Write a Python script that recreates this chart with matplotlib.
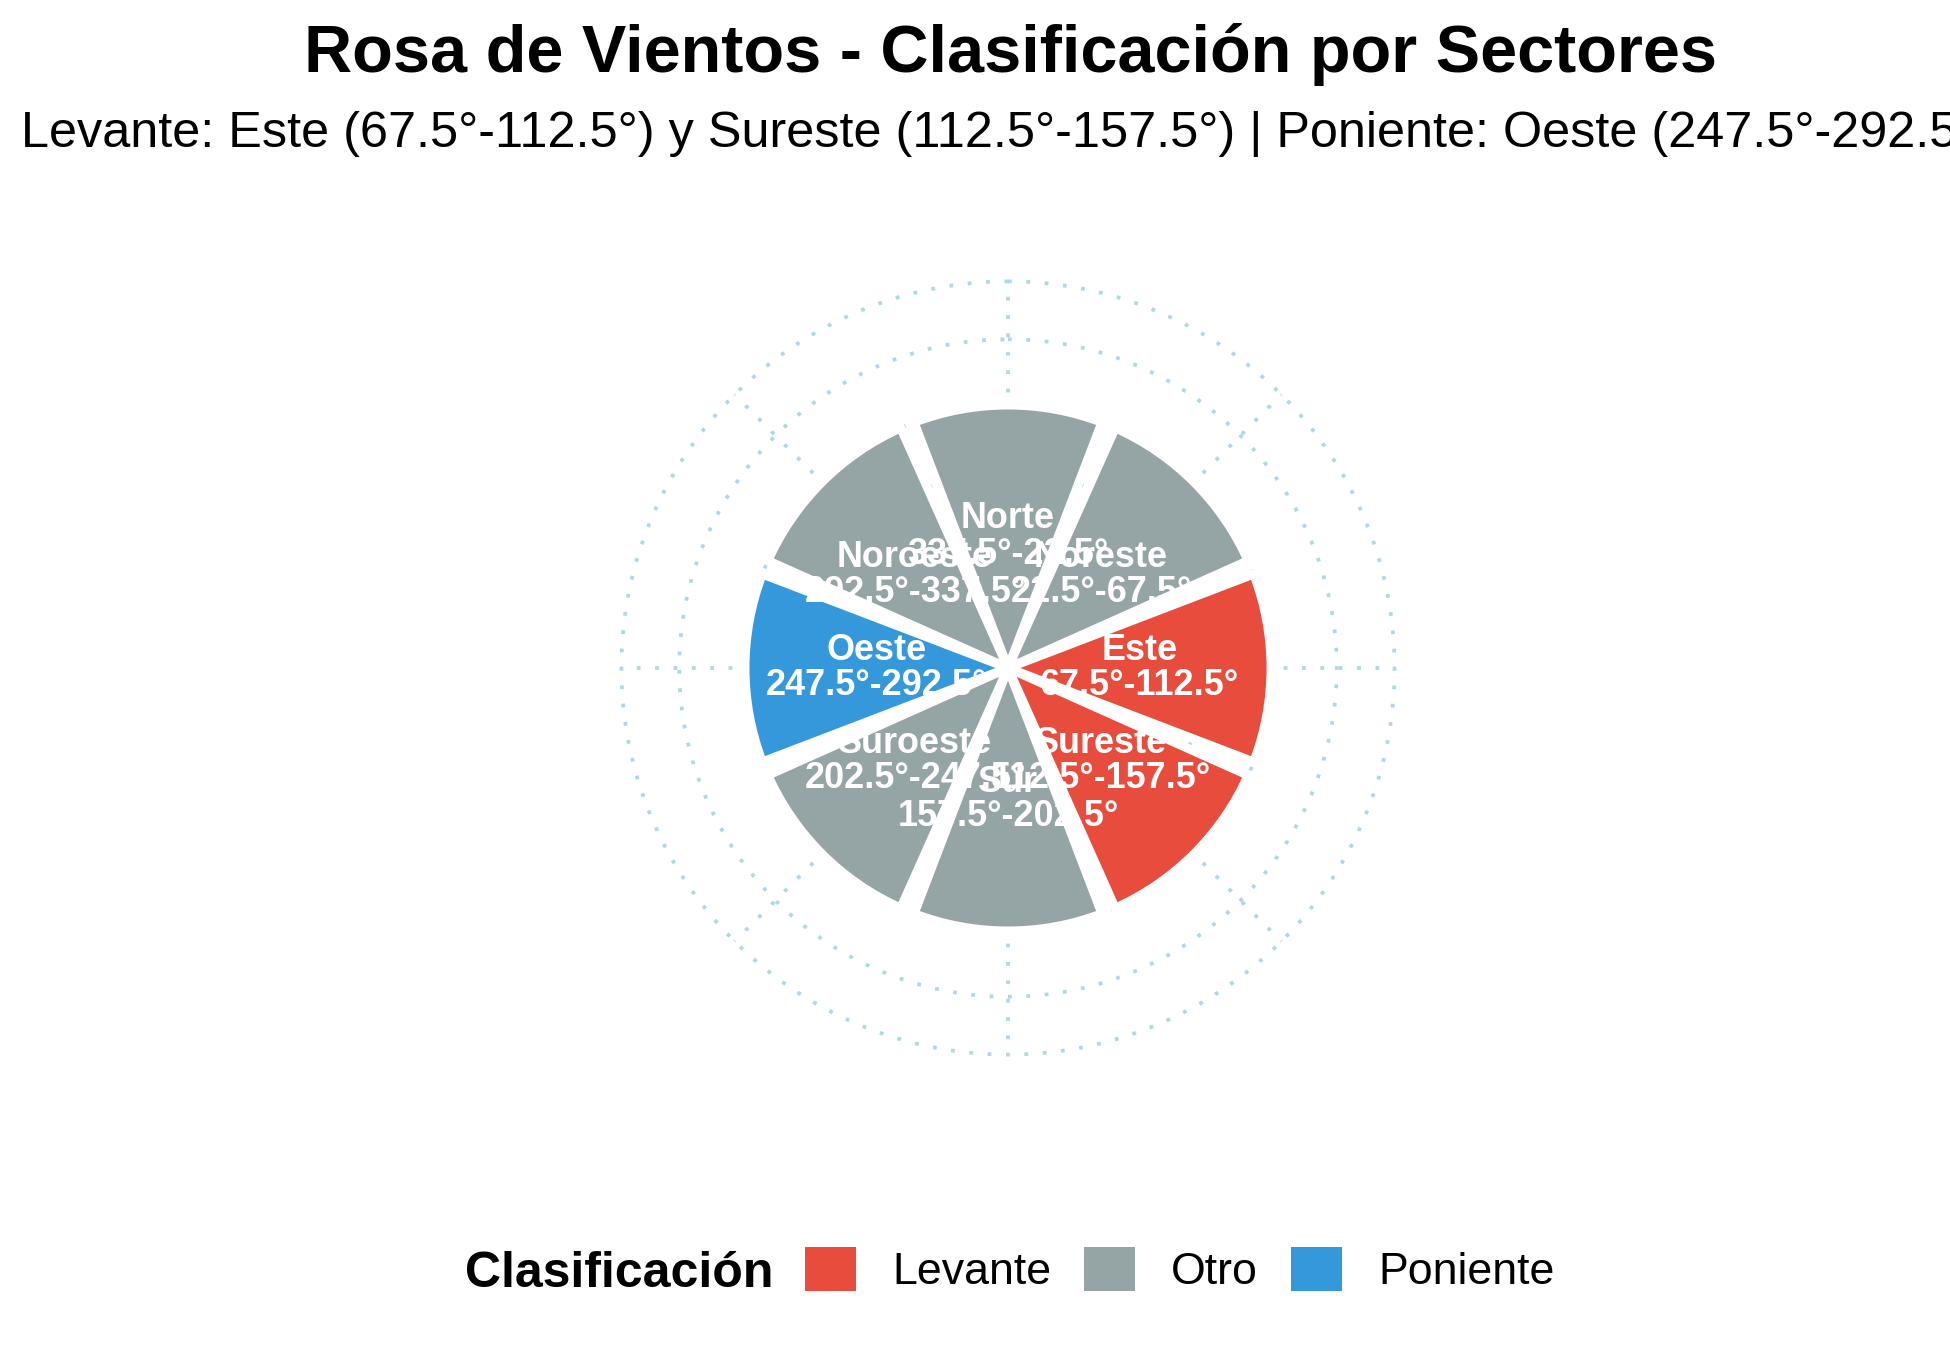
import matplotlib
matplotlib.use("Agg")
import matplotlib.pyplot as plt
import numpy as np
from matplotlib.patches import Patch

plt.rcParams['font.family'] = ['Liberation Sans', 'DejaVu Sans']

# ---- data ----
sectores = ["Norte", "Noreste", "Este", "Sureste", "Sur", "Suroeste", "Oeste", "Noroeste"]
centros_deg = [0, 45, 90, 135, 180, 225, 270, 315]
rangos = ["337.5°-22.5°", "22.5°-67.5°", "67.5°-112.5°", "112.5°-157.5°",
          "157.5°-202.5°", "202.5°-247.5°", "247.5°-292.5°", "292.5°-337.5°"]
valores = [1, 1, 1, 1, 1, 1, 1, 1]
clasificacion = ["Otro", "Otro", "Levante", "Levante", "Otro", "Otro", "Poniente", "Otro"]
categorias = ["Levante", "Otro", "Poniente"]
colores = {"Levante": "#E74C3C", "Otro": "#95A5A6", "Poniente": "#3498DB"}
radial_breaks = [0.25, 0.5, 0.75, 1.0, 1.25, 1.47]

titulo = "Rosa de Vientos - Clasificación por Sectores"
subtitulo = ("Levante: Este (67.5°-112.5°) y Sureste (112.5°-157.5°) | "
             "Poniente: Oeste (247.5°-292.5°)")

W, H, DPI = 1950, 1350, 150
fig = plt.figure(figsize=(W / DPI, H / DPI), dpi=DPI)

# polar axes placement (pixels)
cx, cy = 1008, 668
px_per_unit = 263
rmax = 1.5
half = rmax * px_per_unit
ax = fig.add_axes([(cx - half) / W, (H - cy - half) / H, 2 * half / W, 2 * half / H],
                  projection='polar')
ax.set_theta_zero_location('N')
ax.set_theta_direction(-1)
ax.set_ylim(0, rmax)
ax.axis('off')

grid_col = '#ADD8E6'
dot_style = dict(color=grid_col, lw=1.8, linestyle=(0, (1, 3.9)),
                 dash_capstyle='butt', zorder=1)
tt = np.linspace(0, 2 * np.pi, 721)
for r in radial_breaks:
    ax.plot(tt, np.full_like(tt, r), **dot_style)
for c in centros_deg:
    ax.plot([np.deg2rad(c)] * 2, [0, radial_breaks[-1]], **dot_style)

width = np.deg2rad(45 * 0.93)
ax.bar(np.deg2rad(centros_deg), valores, width=width, bottom=0,
       color=[colores[c] for c in clasificacion], edgecolor='white',
       linewidth=4.3, zorder=2)

for name, c, rg, v in zip(sectores, centros_deg, rangos, valores):
    ax.text(np.deg2rad(c), v * 0.5, f"{name}\n{rg}", ha='center', va='center',
            color='white', fontsize=17.3, fontweight='bold', zorder=5,
            linespacing=1.0)

fig.text(1010 / W, 1 - 72 / H, titulo, ha='center', va='baseline',
         fontsize=32, fontweight='bold')
fig.text(1008 / W, 1 - 147 / H, subtitulo, ha='center', va='baseline',
         fontsize=24.2)

# legend
fig.text(465 / W, 1 - 1287 / H, "Clasificación", ha='left', va='baseline',
         fontsize=24, fontweight='bold')
handles = [Patch(facecolor=colores[c], edgecolor='none', label=c) for c in categorias]
fs = 21.5
fig.legend(handles=handles, loc='center left', bbox_to_anchor=(805 / W, 1 - 1270 / H),
           ncol=3, frameon=False, fontsize=fs, handlelength=1.14, handleheight=1.14,
           handletextpad=0.8, columnspacing=0.74, borderpad=0, borderaxespad=0)

fig.savefig("out.png", dpi=DPI, facecolor='white')
